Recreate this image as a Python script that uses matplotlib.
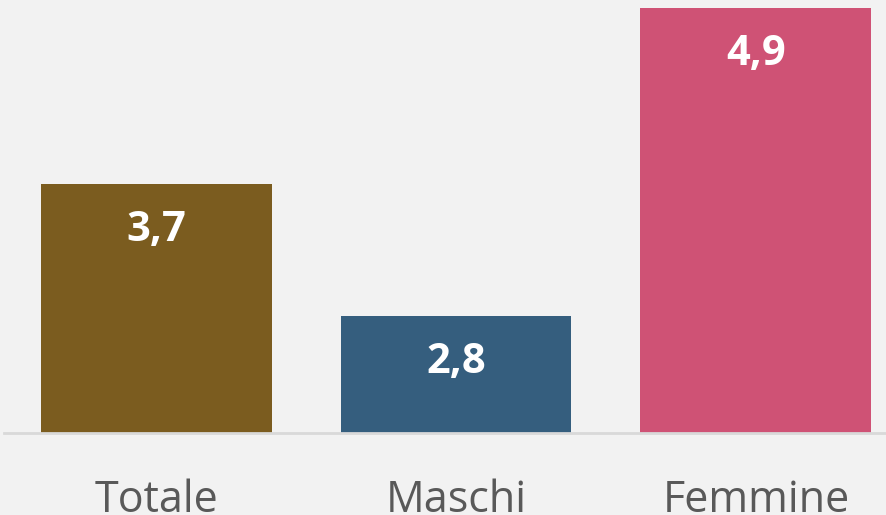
import matplotlib.pyplot as plt

categories = ['Totale', 'Maschi', 'Femmine']
values = [3.7, 2.8, 4.9]
labels = ['3,7', '2,8', '4,9']
colors = ['#7b5c1f', '#355e7e', '#cf5275']

bg = '#f2f2f2'
base = 2.0

fig = plt.figure(figsize=(8.87, 5.15), dpi=100, facecolor=bg)
ax = fig.add_axes([4 / 887, 82 / 515, 883 / 887, 433 / 515], facecolor=bg)

x = range(len(categories))
heights = [v - base for v in values]
ax.bar(x, heights, bottom=base, width=0.77, color=colors, zorder=2)

for i, (v, lab) in enumerate(zip(values, labels)):
    ax.text(i, v - 0.32, lab, ha='center', va='center', color='white',
            fontsize=30, fontweight='bold', family='Open Sans', zorder=3)

ax.set_xlim(-0.507, 2.437)
ax.set_ylim(base, base + 433 / 146.7)

for s in ['top', 'right', 'left']:
    ax.spines[s].set_visible(False)
ax.spines['bottom'].set_color('#d9d9d9')
ax.spines['bottom'].set_linewidth(2)
ax.set_yticks([])
ax.set_xticks(list(x))
ax.set_xticklabels(categories, fontsize=31, color='#595959', family='Open Sans')
ax.tick_params(axis='x', length=0, pad=33)

fig.savefig('out.png', dpi=100, facecolor=bg)
